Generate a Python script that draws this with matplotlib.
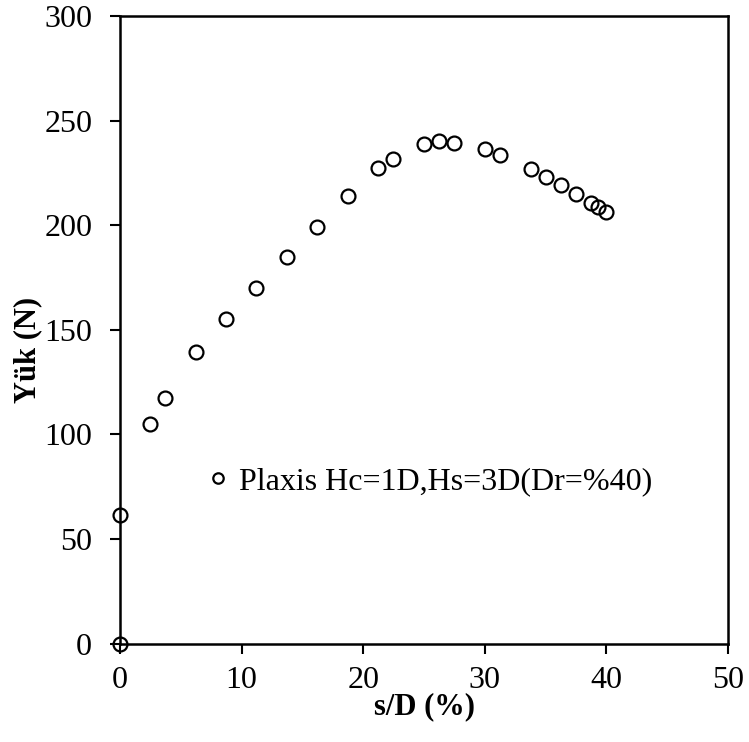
import matplotlib
matplotlib.use("Agg")
import matplotlib.pyplot as plt

# Load–settlement data (Plaxis, Hc=1D, Hs=3D, Dr=%40)
settlement_pct = [0.0, 0.0, 2.47, 3.73, 6.22, 8.71, 11.2, 13.75, 16.24, 18.73,
                  21.23, 22.46, 25.0, 26.24, 27.5, 29.99, 31.25, 33.79, 35.0,
                  36.26, 37.5, 38.73, 39.3, 39.93]
load_n = [0.0, 61.7, 104.8, 117.5, 139.3, 155.2, 169.9, 184.8, 199.2, 214.2,
          227.3, 231.7, 238.9, 240.2, 239.4, 236.3, 233.8, 226.9, 223.1,
          219.1, 214.8, 210.7, 208.6, 206.2]
series_label = "Plaxis Hc=1D,Hs=3D(Dr=%40)"

x_ticks = [0, 10, 20, 30, 40, 50]
y_ticks = [0, 50, 100, 150, 200, 250, 300]

plt.rcParams["font.family"] = ["Liberation Serif", "DejaVu Serif"]

fig = plt.figure(figsize=(7.49, 7.42), dpi=100)
ax = fig.add_axes([0.1602, 0.1327, 0.8118, 0.8455])

ax.plot(settlement_pct, load_n, linestyle="none", marker="o", markersize=10,
        markerfacecolor="none", markeredgecolor="black", markeredgewidth=1.6,
        label=series_label, clip_on=False, zorder=5)

ax.set_xlim(0, 50)
ax.set_ylim(0, 300)
ax.set_xticks(x_ticks)
ax.set_yticks(y_ticks)
ax.tick_params(axis="both", direction="out", length=7, width=1.5,
               labelsize=23, colors="black")
ax.tick_params(axis="x", pad=9)
ax.tick_params(axis="y", pad=13)
for side, spine in ax.spines.items():
    spine.set_linewidth(1.8)
    spine.set_color("black")

ax.set_xlabel("s/D (%)", fontsize=22, fontweight="bold")
ax.set_ylabel("Yük (N)", fontsize=22, fontweight="bold")
ax.xaxis.set_label_coords(0.5, -0.078)
ax.yaxis.set_label_coords(-0.128, 0.468)

leg = ax.legend(loc="center left", bbox_to_anchor=(0.125, 0.258),
                frameon=False, fontsize=23, markerscale=0.75,
                handlelength=0.6, handletextpad=0.35, borderaxespad=0)

fig.savefig("out.png", dpi=100, facecolor="white")
